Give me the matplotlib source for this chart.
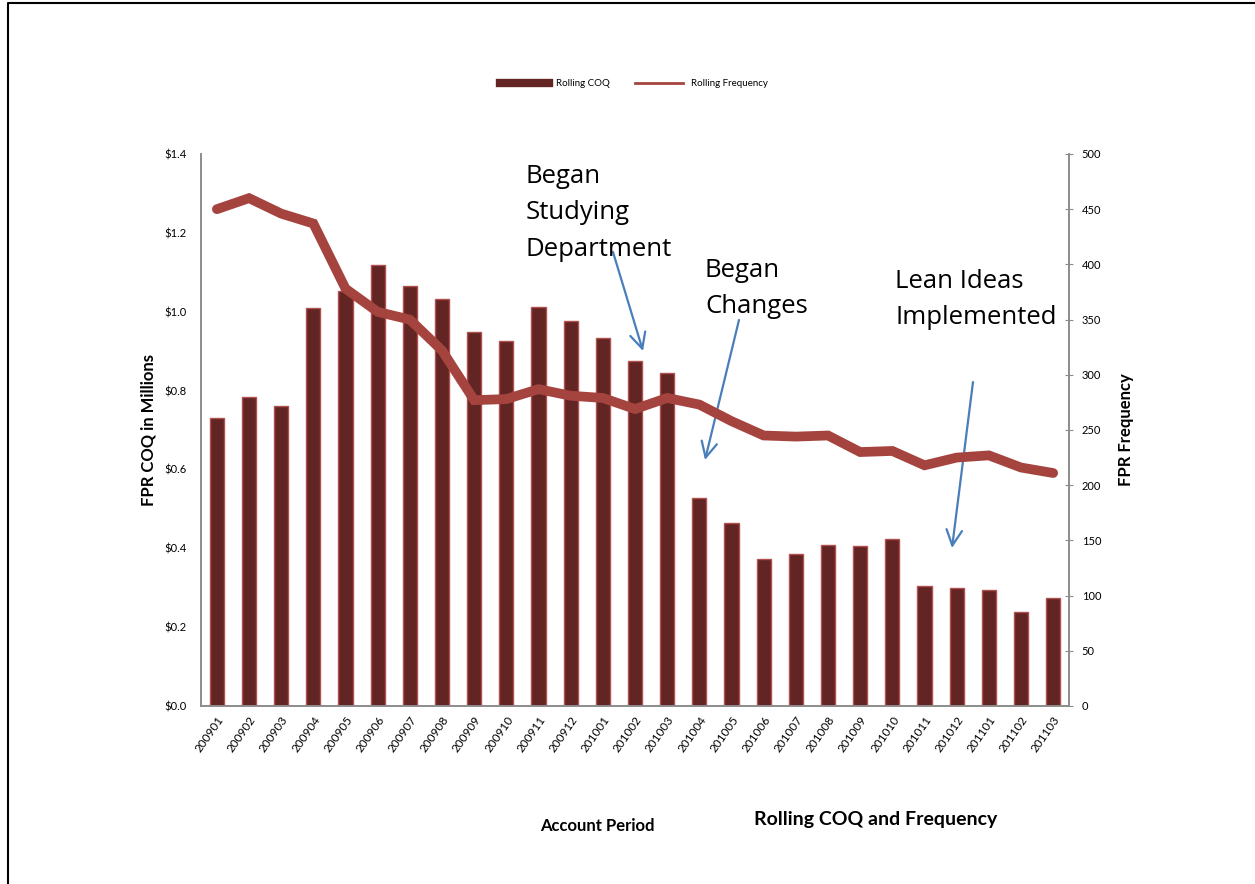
import matplotlib.pyplot as plt
import numpy as np
from matplotlib.lines import Line2D

# ── 数据 ─────────────────────────────────
periods = ["200901", "200902", "200903", "200904", "200905", "200906", "200907",
           "200908", "200909", "200910", "200911", "200912", "201001", "201002",
           "201003", "201004", "201005", "201006", "201007", "201008", "201009",
           "201010", "201011", "201012", "201101", "201102", "201103"]
rolling_coq = [0.730, 0.784, 0.761, 1.009, 1.052, 1.118, 1.065, 1.032, 0.948,
               0.926, 1.012, 0.976, 0.933, 0.875, 0.845, 0.528, 0.464, 0.373,
               0.385, 0.408, 0.406, 0.424, 0.304, 0.299, 0.294, 0.238, 0.274]
rolling_freq = [450, 460, 446, 437, 378, 357, 350, 322, 277, 278, 287, 281, 279,
                269, 279, 273, 258, 245, 244, 245, 230, 231, 218, 225, 227, 216, 211]

coq_ticks = [0.0, 0.2, 0.4, 0.6, 0.8, 1.0, 1.2, 1.4]
freq_ticks = [0, 50, 100, 150, 200, 250, 300, 350, 400, 450, 500]

BAR_C  = "#632523"
EDGE_C = "#b05050"
LINE_C = "#a5443f"
AXIS_C = "#8c8c8c"
ARROW_C = "#4a7ebb"

plt.rcParams['font.family'] = ['Lato', 'DejaVu Sans']

fig = plt.figure(figsize=(12.55, 8.84), dpi=100)
ax = fig.add_axes([0.160, 0.2014, 0.692, 0.6244])
ax2 = ax.twinx()

x = np.arange(len(periods))
ax.bar(x, rolling_coq, width=0.44, color=BAR_C, edgecolor=EDGE_C, linewidth=1.0, zorder=2)
ax2.plot(x, rolling_freq, color=LINE_C, linewidth=7, solid_capstyle='round',
         solid_joinstyle='miter', zorder=3)

ax.set_xlim(-0.5, len(periods) - 0.5)
ax.set_ylim(0, 1.4)
ax2.set_ylim(0, 500)

ax.set_yticks(coq_ticks)
ax.set_yticklabels([f"${v:.1f}" for v in coq_ticks], fontsize=8)
ax2.set_yticks(freq_ticks)
ax2.set_yticklabels([str(v) for v in freq_ticks], fontsize=8)
ax.set_xticks(x)
ax.set_xticklabels(periods, rotation=55, ha='right', rotation_mode='anchor', fontsize=8.5)

for a in (ax, ax2):
    a.spines['top'].set_visible(False)
    for s in ('left', 'right', 'bottom'):
        a.spines[s].set_color(AXIS_C)
        a.spines[s].set_linewidth(1.2)
ax.tick_params(axis='y', length=0, pad=10)
ax.tick_params(axis='x', length=0, pad=6)
ax2.tick_params(axis='y', direction='inout', length=6, color=AXIS_C, pad=6)

ax.set_ylabel("FPR COQ in Millions", fontsize=12, fontweight='bold', labelpad=6)
ax2.set_ylabel("FPR Frequency", fontsize=12, fontweight='bold', labelpad=12)

# ── 标注 ─────────────────────────────────
def fig_xy(px, py):
    return px / 1255, 1 - py / 884

notes = [
    ("Began\nStudying\nDepartment", (526, 164), (613, 252), (643, 351)),
    ("Began\nChanges", (705, 258), (739, 320), (705, 460)),
    ("Lean Ideas\nImplemented", (895, 269), (973, 382), (952, 548)),
]
for text, tpos, start, end in notes:
    fig.text(*fig_xy(*tpos), text, fontsize=18.5, va='top', ha='left',
             linespacing=1.6, family=['Open Sans', 'DejaVu Sans'])
    ax.annotate("", xy=fig_xy(*end), xycoords='figure fraction',
                xytext=fig_xy(*start), textcoords='figure fraction',
                arrowprops=dict(arrowstyle='->', color=ARROW_C, lw=1.6,
                                mutation_scale=28, shrinkA=0, shrinkB=0))

fig.text(*fig_xy(597, 826), "Account Period", fontsize=12, fontweight='bold',
         ha='center', va='center')
fig.text(*fig_xy(876, 820), "Rolling COQ and Frequency", fontsize=14, fontweight='bold',
         ha='center', va='center')

# ── 图例 ─────────────────────────────────
handles = [Line2D([0], [0], color=BAR_C, lw=6),
           Line2D([0], [0], color=LINE_C, lw=2)]
fig.legend(handles, ["Rolling COQ", "Rolling Frequency"], loc='center',
           bbox_to_anchor=fig_xy(634, 84), ncol=2, frameon=False, fontsize=7,
           handlelength=5, columnspacing=2.5)

# 外框（上边和左边）
fig.add_artist(Line2D([8 / 1255, 8 / 1255, 1.0], [0.0, 1 - 3 / 884, 1 - 3 / 884],
                      transform=fig.transFigure, color='black', lw=1.5))

fig.savefig("out.png", dpi=100)
